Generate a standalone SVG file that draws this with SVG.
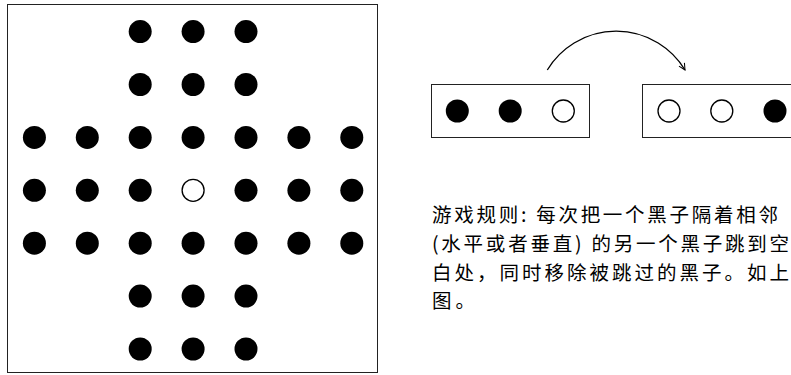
<svg xmlns="http://www.w3.org/2000/svg" width="791" height="375" viewBox="0 0 791 375">
<style>
.box{fill:none;stroke:#222;stroke-width:1}
.peg{fill:#000}
.hole{fill:#fff;stroke:#000;stroke-width:1.3}
.conn{fill:none;stroke:#000;stroke-width:1.3}
.txt{font-family:"Noto Sans CJK SC","Noto Sans",sans-serif;font-size:19.5px;fill:#000}
</style>
<defs>
<marker id="arr" viewBox="0 0 10 10" refX="9" refY="5" markerWidth="8" markerHeight="8" markerUnits="userSpaceOnUse" orient="auto">
<path d="M1,1 L9,5 L1,9" fill="none" stroke="#000" stroke-width="1.3"/>
</marker>
</defs>
<rect width="791" height="375" fill="#fff"/>
<g id="board">
<rect class="box" x="7.5" y="4.5" width="370" height="368"/>
<circle class="peg" cx="140.2" cy="31.6" r="11.5"/>
<circle class="peg" cx="193.1" cy="31.6" r="11.5"/>
<circle class="peg" cx="246" cy="31.6" r="11.5"/>
<circle class="peg" cx="140.2" cy="84.5" r="11.5"/>
<circle class="peg" cx="193.1" cy="84.5" r="11.5"/>
<circle class="peg" cx="246" cy="84.5" r="11.5"/>
<circle class="peg" cx="34.4" cy="137.4" r="11.5"/>
<circle class="peg" cx="87.3" cy="137.4" r="11.5"/>
<circle class="peg" cx="140.2" cy="137.4" r="11.5"/>
<circle class="peg" cx="193.1" cy="137.4" r="11.5"/>
<circle class="peg" cx="246" cy="137.4" r="11.5"/>
<circle class="peg" cx="298.9" cy="137.4" r="11.5"/>
<circle class="peg" cx="351.8" cy="137.4" r="11.5"/>
<circle class="peg" cx="34.4" cy="190.3" r="11.5"/>
<circle class="peg" cx="87.3" cy="190.3" r="11.5"/>
<circle class="peg" cx="140.2" cy="190.3" r="11.5"/>
<circle class="hole" cx="193.1" cy="190.3" r="11"/>
<circle class="peg" cx="246" cy="190.3" r="11.5"/>
<circle class="peg" cx="298.9" cy="190.3" r="11.5"/>
<circle class="peg" cx="351.8" cy="190.3" r="11.5"/>
<circle class="peg" cx="34.4" cy="243.2" r="11.5"/>
<circle class="peg" cx="87.3" cy="243.2" r="11.5"/>
<circle class="peg" cx="140.2" cy="243.2" r="11.5"/>
<circle class="peg" cx="193.1" cy="243.2" r="11.5"/>
<circle class="peg" cx="246" cy="243.2" r="11.5"/>
<circle class="peg" cx="298.9" cy="243.2" r="11.5"/>
<circle class="peg" cx="351.8" cy="243.2" r="11.5"/>
<circle class="peg" cx="140.2" cy="296.1" r="11.5"/>
<circle class="peg" cx="193.1" cy="296.1" r="11.5"/>
<circle class="peg" cx="246" cy="296.1" r="11.5"/>
<circle class="peg" cx="140.2" cy="349" r="11.5"/>
<circle class="peg" cx="193.1" cy="349" r="11.5"/>
<circle class="peg" cx="246" cy="349" r="11.5"/>
</g>
<g id="before">
<rect class="box" x="431.5" y="84.5" width="158" height="53"/>
<circle class="peg" cx="457.3" cy="111" r="11.5"/>
<circle class="peg" cx="510.2" cy="111" r="11.5"/>
<circle class="hole" cx="563.3" cy="111" r="11"/>
</g>
<g id="after">
<rect class="box" x="642.5" y="84.5" width="160" height="53"/>
<circle class="hole" cx="669" cy="111" r="11"/>
<circle class="hole" cx="721.8" cy="111" r="11"/>
<circle class="peg" cx="775" cy="111" r="11.5"/>
</g>
<g id="connectors">
<path class="conn" d="M547.3,70 A80.5,80.5 0 0 1 685,70" marker-end="url(#arr)"/>
</g>
<g id="rule-text">
<text class="txt" x="432" y="222" textLength="346" lengthAdjust="spacing">游戏规则: 每次把一个黑子隔着相邻</text>
<text class="txt" x="432" y="251" textLength="357" lengthAdjust="spacing">(水平或者垂直) 的另一个黑子跳到空</text>
<text class="txt" x="432" y="280" textLength="357" lengthAdjust="spacing">白处，同时移除被跳过的黑子。如上</text>
<text class="txt" x="432" y="308" textLength="43" lengthAdjust="spacing">图。</text>
</g>
</svg>
